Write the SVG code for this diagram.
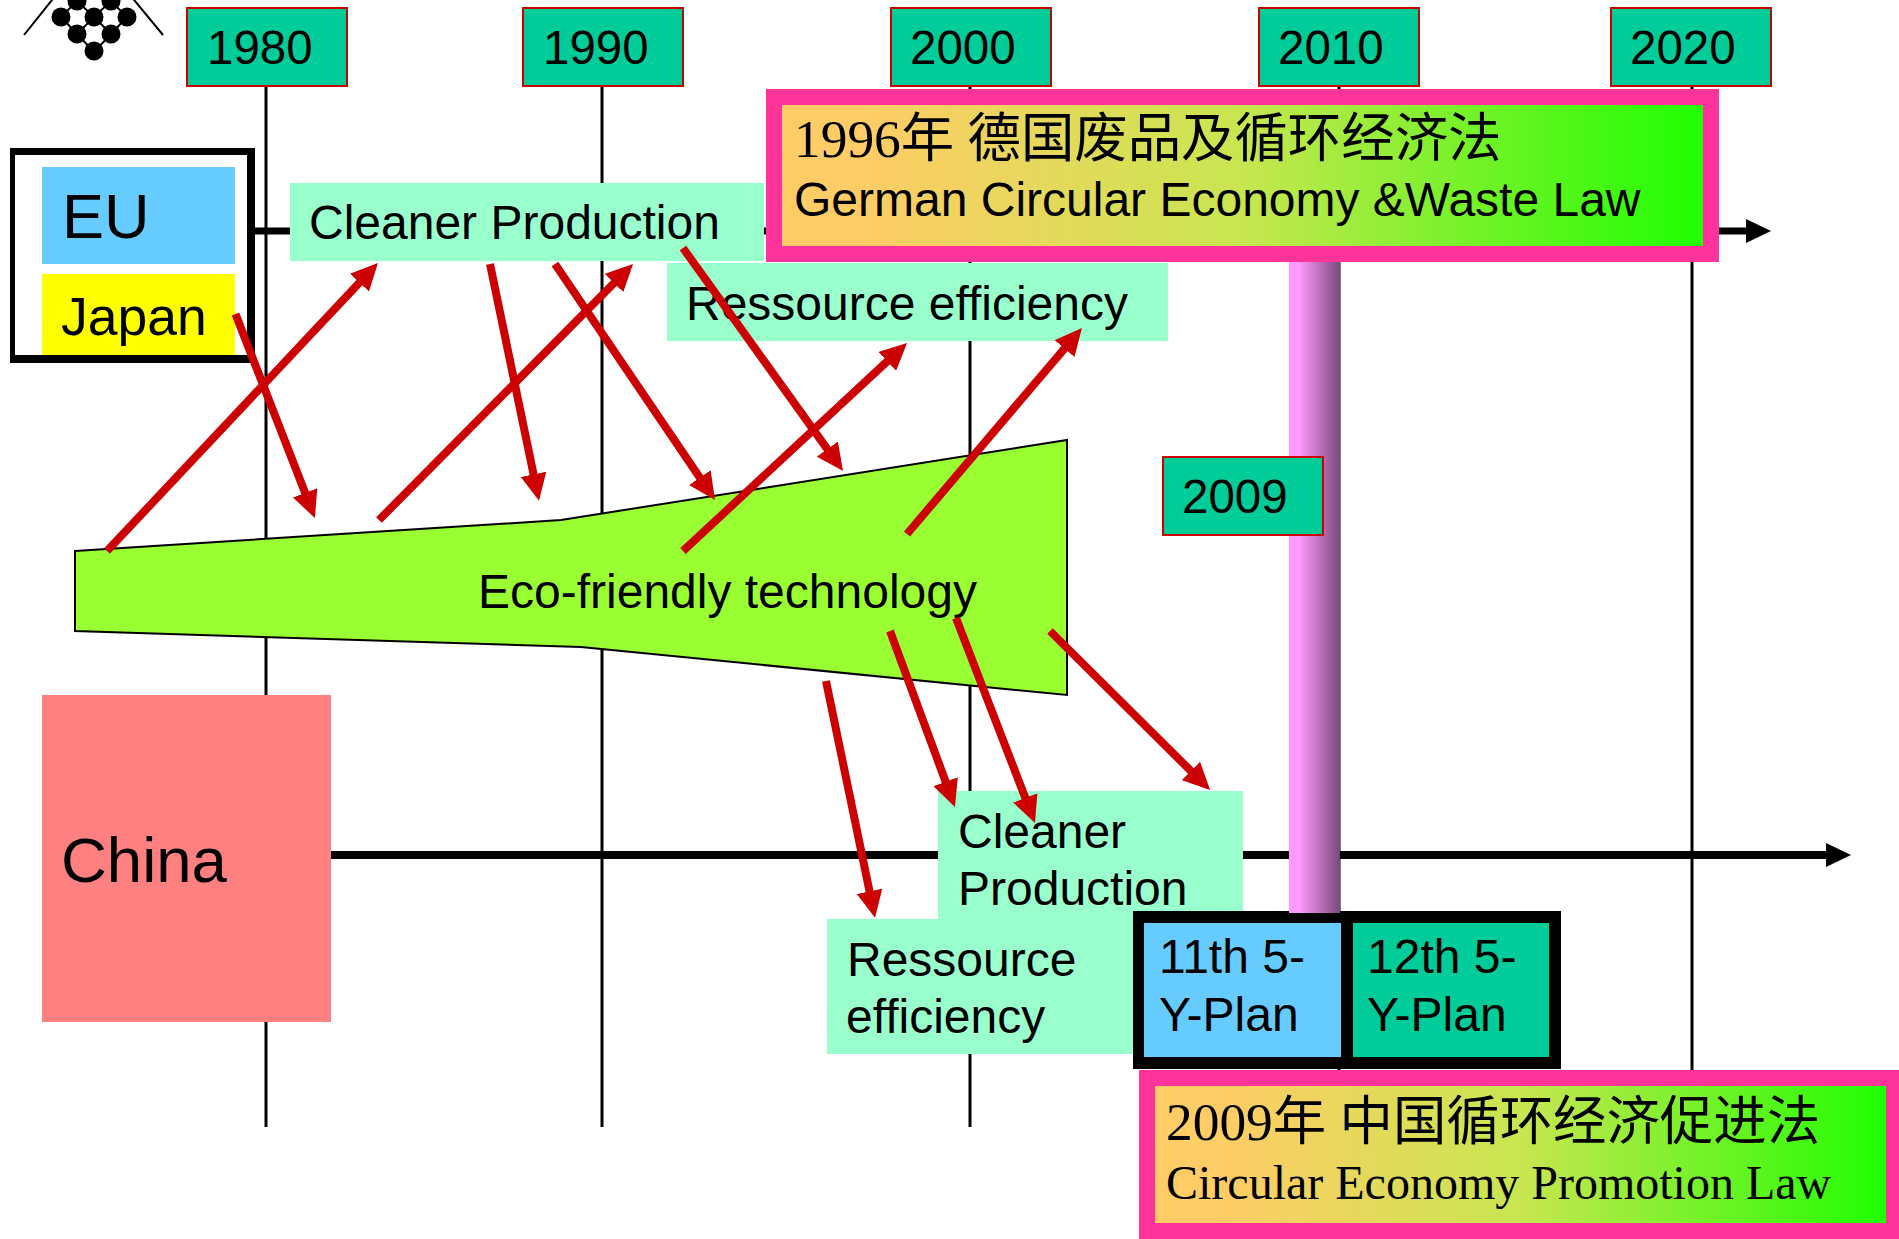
<svg xmlns="http://www.w3.org/2000/svg" width="1899" height="1239" viewBox="0 0 1899 1239">
<style>
text{font-family:"Liberation Sans",Arial,"Noto Sans CJK SC",sans-serif;fill:#000}
.y rect{fill:#00CC99;stroke:#CC0000;stroke-width:2}
.y text{font-size:47.5px}
.t{font-size:48px}
.g{fill:#99FFCC}
.v{stroke:#000;stroke-width:3;fill:none}
.ax{stroke:#000;stroke-width:8;fill:none}
.ar{stroke:#CC0000;stroke-width:8;fill:none;marker-end:url(#rh)}
.pk{stroke:#FF3399;stroke-width:16;fill:url(#lg)}
.cj{font-family:"Liberation Serif","Noto Sans CJK SC",serif;font-size:53.4px}
</style>
<defs>
<marker id="rh" markerUnits="userSpaceOnUse" markerWidth="28" markerHeight="26" viewBox="0 0 28 26" refX="17" refY="13" orient="auto"><path d="M0 0L27 13L0 26Z" fill="#CC0000"/></marker>
<marker id="bh" markerUnits="userSpaceOnUse" markerWidth="26" markerHeight="26" viewBox="0 0 26 26" refX="1" refY="13" orient="auto"><path d="M0 1L25 13L0 25Z" fill="#000"/></marker>
<linearGradient id="lg" x1="0" x2="1" y1="0" y2="0"><stop offset="0.1" stop-color="#FFCC66"/><stop offset="0.5" stop-color="#C8E650"/><stop offset="1" stop-color="#1CFF00"/></linearGradient>
<linearGradient id="cg" x1="0" x2="1" y1="0" y2="0"><stop offset="0.2" stop-color="#FF99FF"/><stop offset="1" stop-color="#7A4A7A"/></linearGradient>
</defs>
<rect width="1899" height="1239" fill="#fff"/>

<g id="logo" fill="#000" stroke="#000">
<path d="M24 35L56 -5M163 35L130 -5M94 52L77 34L61 17L77 1M94 52L111 34L127 17L111 1M77 34L94 17L111 34M77 1L94 17L111 1" fill="none" stroke-width="2"/>
<g stroke="none"><circle cx="94" cy="51" r="9.5"/><circle cx="77" cy="34" r="9.5"/><circle cx="111" cy="34" r="9.5"/><circle cx="61" cy="17" r="9.5"/><circle cx="94" cy="17" r="9.5"/><circle cx="127" cy="17" r="9.5"/><circle cx="77" cy="1" r="9.5"/><circle cx="111" cy="1" r="9.5"/></g>
</g>

<g id="timeline-lines">
<path class="v" d="M266 87V1127M602 87V1127M970 87V1127M1339 87V1072M1692 87V1072"/>
</g>
<g id="axes">
<path class="ax" d="M250 231H1747" marker-end="url(#bh)" style="stroke-width:7"/>
<path class="ax" d="M331 855H1827" marker-end="url(#bh)"/>
</g>

<g id="y1980" class="y"><rect x="187" y="8" width="160" height="78"/><text x="207" y="64">1980</text></g>
<g id="y1990" class="y"><rect x="523" y="8" width="160" height="78"/><text x="543" y="64">1990</text></g>
<g id="y2000" class="y"><rect x="891" y="8" width="160" height="78"/><text x="910" y="64">2000</text></g>
<g id="y2010" class="y"><rect x="1259" y="8" width="160" height="78"/><text x="1278" y="64">2010</text></g>
<g id="y2020" class="y"><rect x="1611" y="8" width="160" height="78"/><text x="1630" y="64">2020</text></g>

<g id="column"><rect x="1289" y="262" width="51" height="651" fill="url(#cg)"/></g>

<g id="eu-japan">
<path fill="#000" fill-rule="evenodd" d="M10 148H255V363H10ZM15 155V355H247V155Z"/>
<rect x="42" y="167" width="193" height="97" fill="#66CCFF"/>
<text x="62" y="238" font-size="63">EU</text>
<rect x="42" y="274" width="193" height="81" fill="#FFFF00"/>
<text x="61" y="335" font-size="53.5">Japan</text>
</g>

<g id="cp-top"><rect class="g" x="290" y="183" width="474" height="78"/><text class="t" x="309" y="239">Cleaner Production</text></g>
<g id="re-top"><rect class="g" x="667" y="263" width="501" height="78"/><text class="t" x="686" y="320">Ressource efficiency</text></g>

<g id="law-de">
<rect class="pk" x="774" y="97" width="937" height="157"/>
<text class="cj" x="794" y="157">1996年 德国废品及循环经济法</text>
<text x="794" y="216" font-size="48">German Circular Economy &amp;Waste Law</text>
</g>

<g id="eco"><path d="M75 551L561 520L1067 440V695L581 647L75 631Z" fill="#99FF33" stroke="#000" stroke-width="2"/><text class="t" x="478" y="608">Eco-friendly technology</text></g>

<g id="y2009" class="y"><rect x="1163" y="457" width="160" height="78"/><text x="1182" y="513">2009</text></g>

<g id="china"><rect x="42" y="695" width="289" height="327" fill="#FF8080"/><text x="61" y="882" font-size="63.5">China</text></g>

<g id="cp-cn"><rect class="g" x="938" y="791" width="305" height="140"/><text class="t" x="958" y="848">Cleaner</text><text class="t" x="958" y="905">Production</text></g>
<g id="re-cn"><rect class="g" x="827" y="919" width="310" height="135"/><text class="t" x="847" y="976">Ressource</text><text class="t" x="846" y="1033">efficiency</text></g>

<g id="plans">
<rect x="1133" y="911" width="428" height="158" fill="#000"/>
<rect x="1144" y="923" width="197" height="134" fill="#66CCFF"/>
<rect x="1353" y="923" width="196" height="134" fill="#00CC99"/>
<text class="t" x="1159" y="973">11th 5-</text><text class="t" x="1159" y="1031">Y-Plan</text>
<text class="t" x="1367" y="973">12th 5-</text><text class="t" x="1367" y="1031">Y-Plan</text>
</g>
<rect x="1289" y="905" width="51" height="8" fill="url(#cg)"/>

<g id="law-cn">
<rect class="pk" x="1147" y="1078" width="747" height="153"/>
<text class="cj" x="1166" y="1140">2009年 中国循环经济促进法</text>
<text x="1166" y="1199" font-size="48" style="font-family:'Liberation Serif',serif">Circular Economy Promotion Law</text>
</g>

<g id="connectors">
<path class="ar" d="M235.5 314L311.3 508.7"/>
<path class="ar" d="M107 551L371.1 270.3"/>
<path class="ar" d="M379 520L626 271"/>
<path class="ar" d="M490 264L537 491"/>
<path class="ar" d="M555 264L709.4 491.7"/>
<path class="ar" d="M683 248L837.2 462.9"/>
<path class="ar" d="M683 551L899.7 349.8"/>
<path class="ar" d="M907 534L1075.5 335.6"/>
<path class="ar" d="M826 681L873 908"/>
<path class="ar" d="M890 631L951.5 797.6"/>
<path class="ar" d="M956 618L1031.4 813.7"/>
<path class="ar" d="M1050 631L1203 783"/>
</g>
</svg>
